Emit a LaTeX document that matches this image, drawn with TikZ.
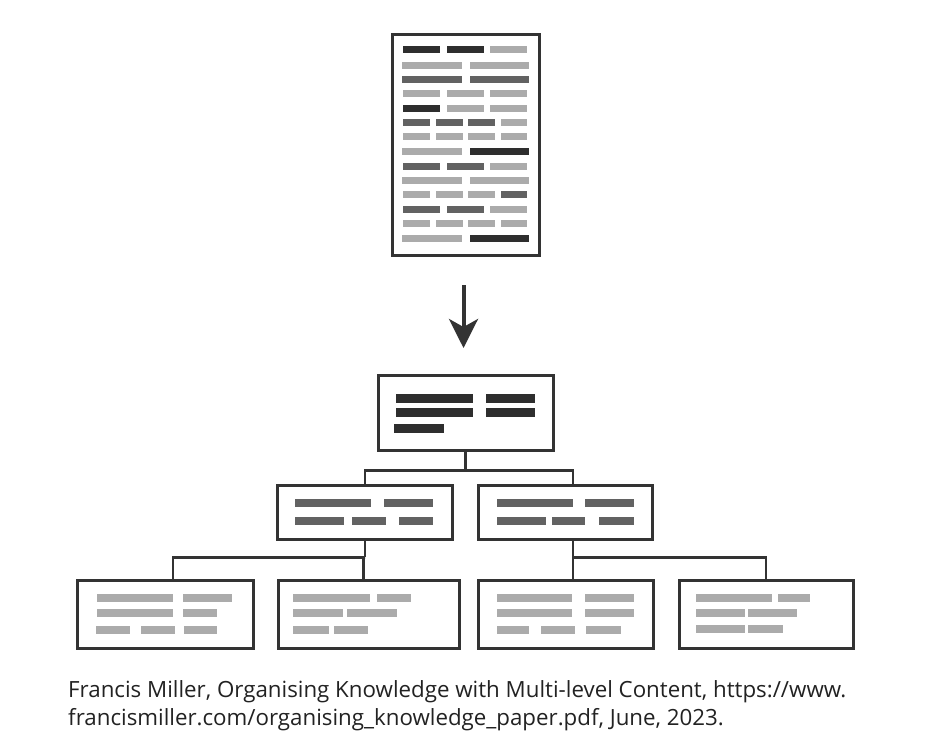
\documentclass[tikz,border=0pt]{standalone}
\usepackage{fontspec}
\setmainfont{Open Sans}
\usetikzlibrary{arrows.meta,calc}
\definecolor{edge}{HTML}{333333}
\definecolor{dk}{HTML}{2E2E2E}
\definecolor{md}{HTML}{626262}
\definecolor{lt}{HTML}{ABABAB}
\definecolor{txt}{HTML}{222222}
\newcommand{\hbx}[5]{\fill[#1] (#2,{#3-#5/2}) rectangle (#4,{#3+#5/2});}
\tikzset{
  panel/.style={draw=edge, line width=3pt, fill=white, inner sep=0pt, outer sep=0pt},
  conn/.style={draw=edge, line width=2.4pt},
  arr/.style={draw=edge, line width=4pt, -{Stealth[length=29pt,width=29pt,inset=8pt]}},
  captext/.style={anchor=base west, inner sep=0pt, text=txt, font=\fontsize{22.3}{26}\selectfont}
}
\begin{document}
\begin{tikzpicture}[x=1pt,y=-1pt]
\useasboundingbox (0,0) rectangle (925,752);
\fill[white] (0,0) rectangle (925,752);
% boxes
\node[panel, minimum width=147pt, minimum height=220pt] (doc) at (465.5,145) {};
\node[panel, minimum width=175pt, minimum height=75pt] (top) at (465.5,412.5) {};
\node[panel, minimum width=175pt, minimum height=54pt] (midL) at (364.5,512) {};
\node[panel, minimum width=174pt, minimum height=54pt] (midR) at (565,512) {};
\node[panel, minimum width=176pt, minimum height=68pt] (b1) at (165,614) {};
\node[panel, minimum width=181pt, minimum height=68pt] (b2) at (368.5,614) {};
\node[panel, minimum width=175pt, minimum height=68pt] (b3) at (565.5,614) {};
\node[panel, minimum width=174pt, minimum height=68pt] (b4) at (766,614) {};
% arrow
\draw[arr, shorten <=30pt, shorten >=27pt] ([xshift=-2pt]doc.south) -- ([xshift=-2pt]top.north);
% connectors
\draw[conn] (top.south) -- ++(0,20.5) coordinate (j1);
\draw[conn] ([xshift=0.5pt]midL.north) |- (j1) -| ([xshift=7.7pt]midR.north);
\draw[conn] ([xshift=0.5pt]midL.south) -- ++(0,18.3) coordinate (j2);
\draw[conn] ([xshift=7.7pt]b1.north) |- (j2) -- ([xshift=-5.2pt]b2.north |- j2) -- ([xshift=-5.2pt]b2.north);
\draw[conn] ([xshift=7.7pt]midR.south) -- ++(0,18.3) coordinate (j3);
\draw[conn] ([xshift=7.2pt]b3.north) -- (j3) -| (b4.north);
% document bars
\foreach \y/\a/\b/\c in {50/dk/dk/lt, 93.3/lt/lt/lt, 108.3/dk/lt/lt, 166/md/md/lt, 209/md/md/lt}{
  \hbx{\a}{403}{\y}{440}{7}\hbx{\b}{447}{\y}{484}{7}\hbx{\c}{490}{\y}{527}{7}}
\foreach \y/\a/\b in {65/lt/lt, 79.3/md/md, 151.7/lt/dk, 180/lt/lt, 238.3/lt/dk}{
  \hbx{\a}{402}{\y}{462}{7}\hbx{\b}{470}{\y}{529}{7}}
\foreach \y/\a/\b/\c/\d in {122.7/md/md/md/lt, 136.7/lt/lt/lt/lt, 194.3/lt/lt/lt/md, 223.3/lt/lt/lt/lt}{
  \hbx{\a}{403}{\y}{430}{7}\hbx{\b}{436}{\y}{463}{7}\hbx{\c}{468}{\y}{495}{7}\hbx{\d}{501}{\y}{527}{7}}
% top box bars
\hbx{dk}{396}{398.3}{472.7}{9}\hbx{dk}{486}{398.3}{534.7}{9}
\hbx{dk}{396}{412.7}{472.7}{9}\hbx{dk}{486}{412.7}{534.7}{9}
\hbx{dk}{394}{428.3}{444}{9}
% mid boxes bars
\hbx{md}{295}{503.3}{370.7}{8}\hbx{md}{384.3}{503.3}{433.3}{8}
\hbx{md}{295}{520.7}{344}{8}\hbx{md}{351.7}{520.7}{386}{8}\hbx{md}{399}{520.7}{433.3}{8}
\hbx{md}{496.7}{503.3}{572.7}{8}\hbx{md}{585}{503.3}{634.3}{8}
\hbx{md}{496.7}{520.7}{546}{8}\hbx{md}{551.7}{520.7}{585.3}{8}\hbx{md}{599.3}{520.7}{634.3}{8}
% bottom bars
\hbx{lt}{96.7}{597.7}{172.7}{8}\hbx{lt}{182.7}{597.7}{232.3}{8}
\hbx{lt}{96.7}{613.3}{172.7}{8}\hbx{lt}{182.7}{613.3}{216.7}{8}
\hbx{lt}{96}{630}{130}{8}\hbx{lt}{140.7}{630}{175}{8}\hbx{lt}{184}{630}{216.7}{8}
\hbx{lt}{293.3}{597.7}{370}{8}\hbx{lt}{376.7}{597.7}{410.7}{8}
\hbx{lt}{293.3}{613.3}{342.7}{8}\hbx{lt}{347.3}{613.3}{397.3}{8}
\hbx{lt}{293.3}{630}{329}{8}\hbx{lt}{334}{630}{368.3}{8}
\hbx{lt}{496.7}{597.7}{572.3}{8}\hbx{lt}{585}{597.7}{634.3}{8}
\hbx{lt}{496.7}{613.3}{572.3}{8}\hbx{lt}{585}{613.3}{634.3}{8}
\hbx{lt}{496.7}{630}{529.3}{8}\hbx{lt}{541}{630}{575}{8}\hbx{lt}{585.7}{630}{621}{8}
\hbx{lt}{696}{597.7}{772.3}{8}\hbx{lt}{778.3}{597.7}{810}{8}
\hbx{lt}{696}{613.3}{745}{8}\hbx{lt}{748.3}{613.3}{796.7}{8}
\hbx{lt}{696}{629.3}{745}{8}\hbx{lt}{748.3}{629.3}{783.3}{8}
% caption
\node[captext] (c1) at (68,697) {Francis Miller, Organising Knowledge with Multi-level Content, https://www.};
\node[captext] (c2) at (68,725) {francismiller.com/organising\_knowledge\_paper.pdf, June, 2023.};
\end{tikzpicture}
\end{document}
